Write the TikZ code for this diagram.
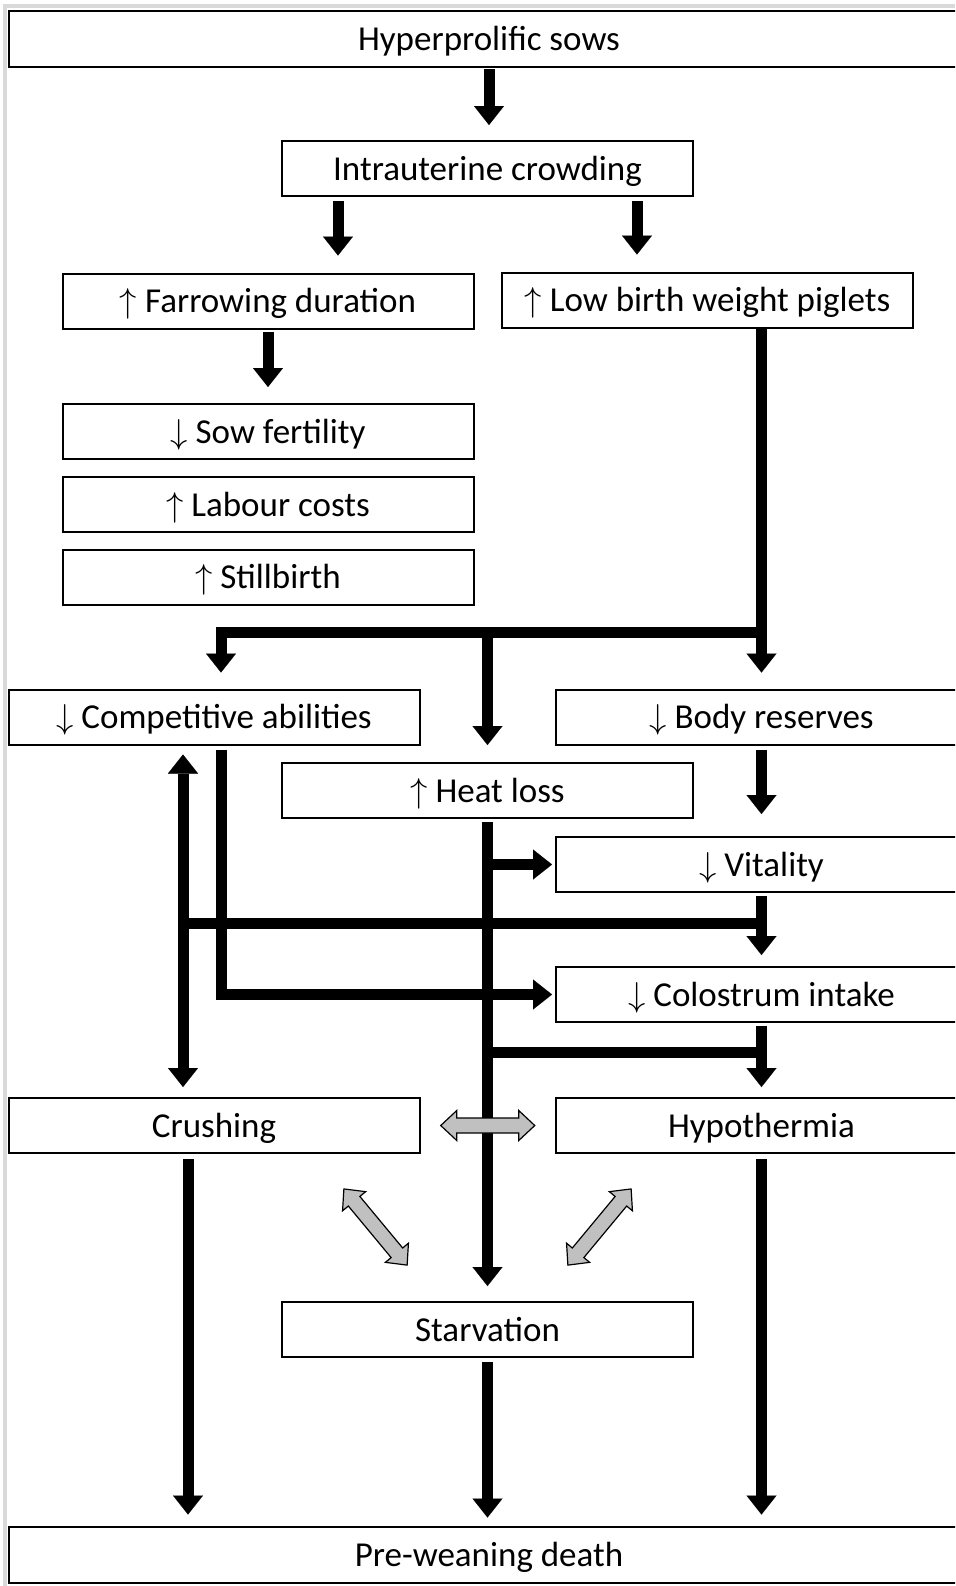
\documentclass[tikz,border=0pt]{standalone}
\usepackage{fontspec}
\setmainfont{Carlito}
\usetikzlibrary{arrows.meta,calc}
\definecolor{framegrey}{RGB}{217,217,217}
\definecolor{blockgrey}{RGB}{192,192,192}

\tikzset{
  box/.style={draw=black, line width=1pt, fill=white, minimum width=205.5pt, minimum height=27.5pt, inner sep=0pt, text height=12pt, text depth=0.5pt, font=\fontsize{17.5}{21}\selectfont},
  widebox/.style={box, minimum width=480pt, minimum height=28pt},
  bar/.style={line width=5.5pt},
  flow/.style={bar, -{Triangle[length=9.5pt 0 0, width=15pt 0 0, line width=0.01pt]}},
  twoway/.style={bar, {Triangle[length=9.5pt 0 0, width=15pt 0 0, line width=0.01pt]}-{Triangle[length=9.5pt 0 0, width=15pt 0 0, line width=0.01pt]}},
  greyblock/.style={fill=blockgrey, draw=black, line width=0.6pt, line join=miter},
}

% grey two-headed block arrow: centre, angle, half length
\newcommand{\greyarrow}[3]{%
  \draw[greyblock, shift={#1}, rotate=#2]
    (-#3,0) -- ({-#3+16},15) -- ({-#3+16},7.5) -- ({#3-16},7.5) -- ({#3-16},15) -- (#3,0)
    -- ({#3-16},-15) -- ({#3-16},-7.5) -- ({-#3+16},-7.5) -- ({-#3+16},-15) -- cycle;}

\begin{document}
\begin{tikzpicture}[x=0.5pt,y=-0.5pt]
\useasboundingbox (0,0) rectangle (955,1586);
\clip (0,0) rectangle (955,1586);
\fill[framegrey] (3,4) rectangle (955,8);
\fill[framegrey] (3,4) rectangle (7,1586);

% boxes
\node[widebox] (sows) at (489,39) {Hyperprolific sows};
\node[box] (crowd) at (487.5,168.5) {Intrauterine crowding};
\node[box] (farrow) at (268,301) {$\uparrow$ Farrowing duration};
\node[box] (lbw) at (707.5,300) {$\uparrow$ Low birth weight piglets};
\node[box] (fert) at (268,431.5) {$\downarrow$ Sow fertility};
\node[box] (labour) at (268,504.5) {$\uparrow$ Labour costs};
\node[box] (still) at (268,577) {$\uparrow$ Stillbirth};
\node[box] (comp) at (214,717) {$\downarrow$ Competitive abilities};
\node[box] (body) at (761.5,717) {$\downarrow$ Body reserves};
\node[box] (heat) at (487.5,790.5) {$\uparrow$ Heat loss};
\node[box] (vital) at (761.5,864.5) {$\downarrow$ Vitality};
\node[box] (colo) at (761.5,994.5) {$\downarrow$ Colostrum intake};
\node[box] (crush) at (214,1125.5) {Crushing};
\node[box] (hypo) at (761.5,1125.5) {Hypothermia};
\node[box] (starv) at (487.5,1329.5) {Starvation};
\node[widebox] (death) at (489,1554.5) {Pre-weaning death};

% top part
\draw[flow, shorten <=0.5pt, shorten >=7.5pt] (sows.south) -- (sows.south |- crowd.north);
\draw[flow, shorten <=2pt, shorten >=8.5pt] ([xshift=-74.75pt]crowd.south) -- ([xshift=-74.75pt]crowd.south |- farrow.north);
\draw[flow, shorten <=2pt, shorten >=8.5pt] ([xshift=74.75pt]crowd.south) -- ([xshift=74.75pt]crowd.south |- lbw.north);
\draw[flow, shorten <=1pt, shorten >=8pt] (farrow.south) -- (fert.north);

% low birth weight fork
\coordinate (fork) at (490,632);
\draw[flow, shorten >=8pt] (body.north |- lbw.south) -- (body.north);
\draw[flow, shorten >=8pt] (fork -| body.north) -| ([xshift=3.5pt]comp.north);
\draw[flow, shorten >=8.5pt] (heat.north |- fork) -- (heat.north);

% middle part
\draw[flow, shorten <=2pt, shorten >=11pt] (body.south) -- (vital.north);
\draw[flow, shorten <=1.5pt, shorten >=5.5pt] (vital.south) -- (colo.north);
\draw[flow, shorten <=1.5pt, shorten >=5pt] (colo.south) -- (hypo.north);
\draw[flow, shorten <=1.5pt, shorten >=7.5pt] (heat.south) -- (starv.north);
\draw[flow, shorten >=1.5pt] (heat.south |- vital.west) -- (vital.west);
\draw[bar] (heat.south |- 0,1052) -- (hypo.north |- 0,1052);
\draw[bar] (vital.south |- 0,923) -- ([xshift=-15.5pt]comp.south |- 0,923);
\draw[twoway, shorten <=4.5pt, shorten >=5pt] ([xshift=-15.5pt]comp.south) -- ([xshift=-15.5pt]crush.north);
\draw[flow, shorten <=2pt, shorten >=1.5pt] ([xshift=3.5pt]comp.south) |- (colo.west);

% grey links
\greyarrow{($(crush.east)!0.5!(hypo.west)$)}{0}{47}
\greyarrow{(375.5,1227)}{-50.3}{49.5}
\greyarrow{(599.5,1227)}{50.3}{49.5}

% to death
\draw[flow, shorten <=2.5pt, shorten >=5.5pt] ([xshift=-13pt]crush.south) -- ([xshift=-13pt]crush.south |- death.north);
\draw[flow, shorten <=2pt, shorten >=4pt] (starv.south) -- (starv.south |- death.north);
\draw[flow, shorten <=2.5pt, shorten >=5.5pt] (hypo.south) -- (hypo.south |- death.north);
\end{tikzpicture}
\end{document}
